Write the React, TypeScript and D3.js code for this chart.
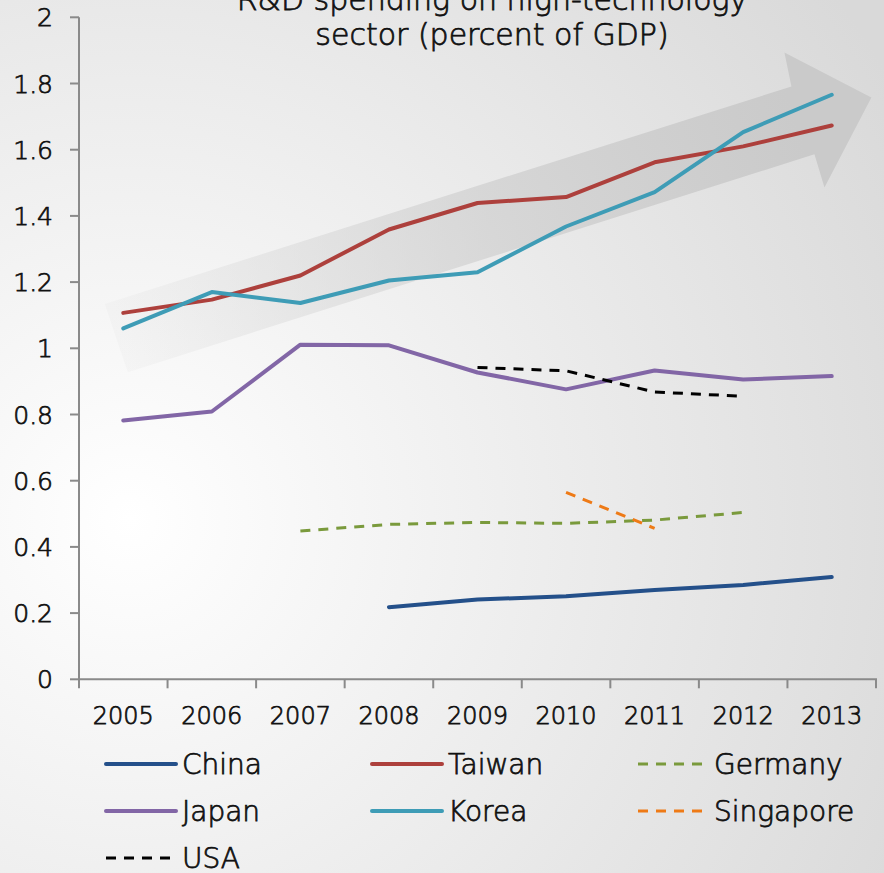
import React from 'react';
import * as d3 from 'd3';

const years = ['2005', '2006', '2007', '2008', '2009', '2010', '2011', '2012', '2013'];

const china = [null, null, null, 0.218, 0.241, 0.251, 0.27, 0.285, 0.309];
const taiwan = [1.107, 1.147, 1.22, 1.359, 1.439, 1.457, 1.562, 1.61, 1.673];
const germany = [null, null, 0.448, 0.468, 0.474, 0.471, 0.481, 0.504, null];
const japan = [0.782, 0.809, 1.011, 1.009, 0.927, 0.876, 0.933, 0.906, 0.916];
const korea = [1.06, 1.17, 1.137, 1.205, 1.23, 1.368, 1.472, 1.653, 1.766];
const singapore = [null, null, null, null, null, 0.565, 0.456, null, null];
const usa = [null, null, null, null, 0.942, 0.932, 0.868, 0.855, null];

const yTicks = [0, 0.2, 0.4, 0.6, 0.8, 1, 1.2, 1.4, 1.6, 1.8, 2];

// trend arrow outline, in (year index, value) units
const arrowShape: [number, number][] = [
  [-0.209, 1.134],
  [7.545, 1.791],
  [7.466, 1.894],
  [8.448, 1.758],
  [7.918, 1.486],
  [7.805, 1.586],
  [0.051, 0.928],
];

type Series = { name: string; values: (number | null)[]; color: string; dashed: boolean };

const series: Series[] = [
  { name: 'China', values: china, color: '#24508a', dashed: false },
  { name: 'Taiwan', values: taiwan, color: '#ad403c', dashed: false },
  { name: 'Germany', values: germany, color: '#7a9a3c', dashed: true },
  { name: 'Japan', values: japan, color: '#8266a6', dashed: false },
  { name: 'Korea', values: korea, color: '#3e9cb6', dashed: false },
  { name: 'Singapore', values: singapore, color: '#ee7a16', dashed: true },
  { name: 'USA', values: usa, color: '#000000', dashed: true },
];

const W = 884;
const H = 873;
const font = '"DejaVu Sans", sans-serif';
// thin face thickened a little to look like the original's regular weight
const textStyle = { fill: '#111', stroke: '#111', strokeWidth: 0.75 };

export default function App() {
  const x = d3.scaleBand<string>().domain(years).range([79, 876]).paddingInner(0).paddingOuter(0);
  const xIdx = d3.scaleLinear().domain([-0.5, years.length - 0.5]).range([79, 876]);
  const y = d3.scaleLinear().domain([0, 2]).range([679.3, 17.3]);

  const line = d3
    .line<number | null>()
    .defined((d) => d != null)
    .x((_, i) => xIdx(i))
    .y((d) => y(d as number));

  const arrowPath = d3.line<[number, number]>()
    .x((d) => xIdx(d[0]))
    .y((d) => y(d[1]))(arrowShape) + 'Z';

  const boundaries = years.map((yr) => x(yr) as number).concat([x.range()[1]]);

  return (
    <svg
      width={W}
      height={H}
      style={{ position: 'absolute', left: 0, top: 0 }}
      fontFamily={font}
      fontWeight={300}
    >
      <defs>
        <radialGradient id="bg" gradientUnits="userSpaceOnUse" cx={130} cy={520} r={880}>
          <stop offset="0" stopColor="#ffffff" />
          <stop offset="1" stopColor="#d9d9d9" />
        </radialGradient>
        <linearGradient
          id="arrowFill"
          gradientUnits="userSpaceOnUse"
          x1={xIdx(0)}
          y1={y(1.03)}
          x2={xIdx(7.6)}
          y2={y(1.69)}
        >
          <stop offset="0" stopColor="#d4d4d4" stopOpacity={0.12} />
          <stop offset="0.55" stopColor="#d0d0d0" stopOpacity={0.75} />
          <stop offset="1" stopColor="#cacaca" stopOpacity={1} />
        </linearGradient>
      </defs>
      <rect width={W} height={H} fill="url(#bg)" />

      <path d={arrowPath} fill="url(#arrowFill)" />

      <text textAnchor="middle" fontSize={30} style={textStyle}>
        <tspan x={492} y={10}>R&amp;D spending on high-technology</tspan>
        <tspan x={492} y={45}>sector (percent of GDP)</tspan>
      </text>

      {/* y axis */}
      <line x1={79} x2={79} y1={y(2)} y2={y(0)} stroke="#8a8a8a" strokeWidth={2} />
      {yTicks.map((t) => (
        <g key={t}>
          <line x1={70} x2={79} y1={y(t)} y2={y(t)} stroke="#8a8a8a" strokeWidth={2} />
          <text x={53} y={y(t)} dy="0.36em" textAnchor="end" fontSize={25} style={textStyle}>
            {d3.format('~g')(t)}
          </text>
        </g>
      ))}

      {/* x axis */}
      <line x1={79} x2={877} y1={y(0)} y2={y(0)} stroke="#8a8a8a" strokeWidth={2} />
      {boundaries.map((b, i) => (
        <line key={i} x1={b} x2={b} y1={y(0)} y2={y(0) + 9} stroke="#8a8a8a" strokeWidth={2} />
      ))}
      {years.map((yr) => (
        <text
          key={yr}
          x={(x(yr) as number) + x.bandwidth() / 2}
          y={724}
          textAnchor="middle"
          fontSize={24}
          style={textStyle}
        >
          {yr}
        </text>
      ))}

      {series.map((s) => (
        <path
          key={s.name}
          d={line(s.values) || ''}
          fill="none"
          stroke={s.color}
          strokeWidth={s.dashed ? 3 : 4}
          strokeDasharray={s.dashed ? '10,8' : undefined}
          strokeLinecap={s.dashed ? 'butt' : 'round'}
          strokeLinejoin="round"
        />
      ))}

      {/* legend */}
      {series.map((s, i) => {
        const lx = 106 + (i % 3) * 266;
        const ly = 764 + Math.floor(i / 3) * 47;
        return (
          <g key={s.name}>
            <line
              x1={lx}
              x2={lx + (s.dashed ? 64 : 70)}
              y1={ly}
              y2={ly}
              stroke={s.color}
              strokeWidth={s.dashed ? 3 : 4}
              strokeDasharray={s.dashed ? '10,8' : undefined}
              strokeLinecap={s.dashed ? 'butt' : 'round'}
            />
            <text x={lx + 76} y={ly} dy="0.36em" fontSize={28} style={textStyle}>
              {s.name}
            </text>
          </g>
        );
      })}
    </svg>
  );
}
